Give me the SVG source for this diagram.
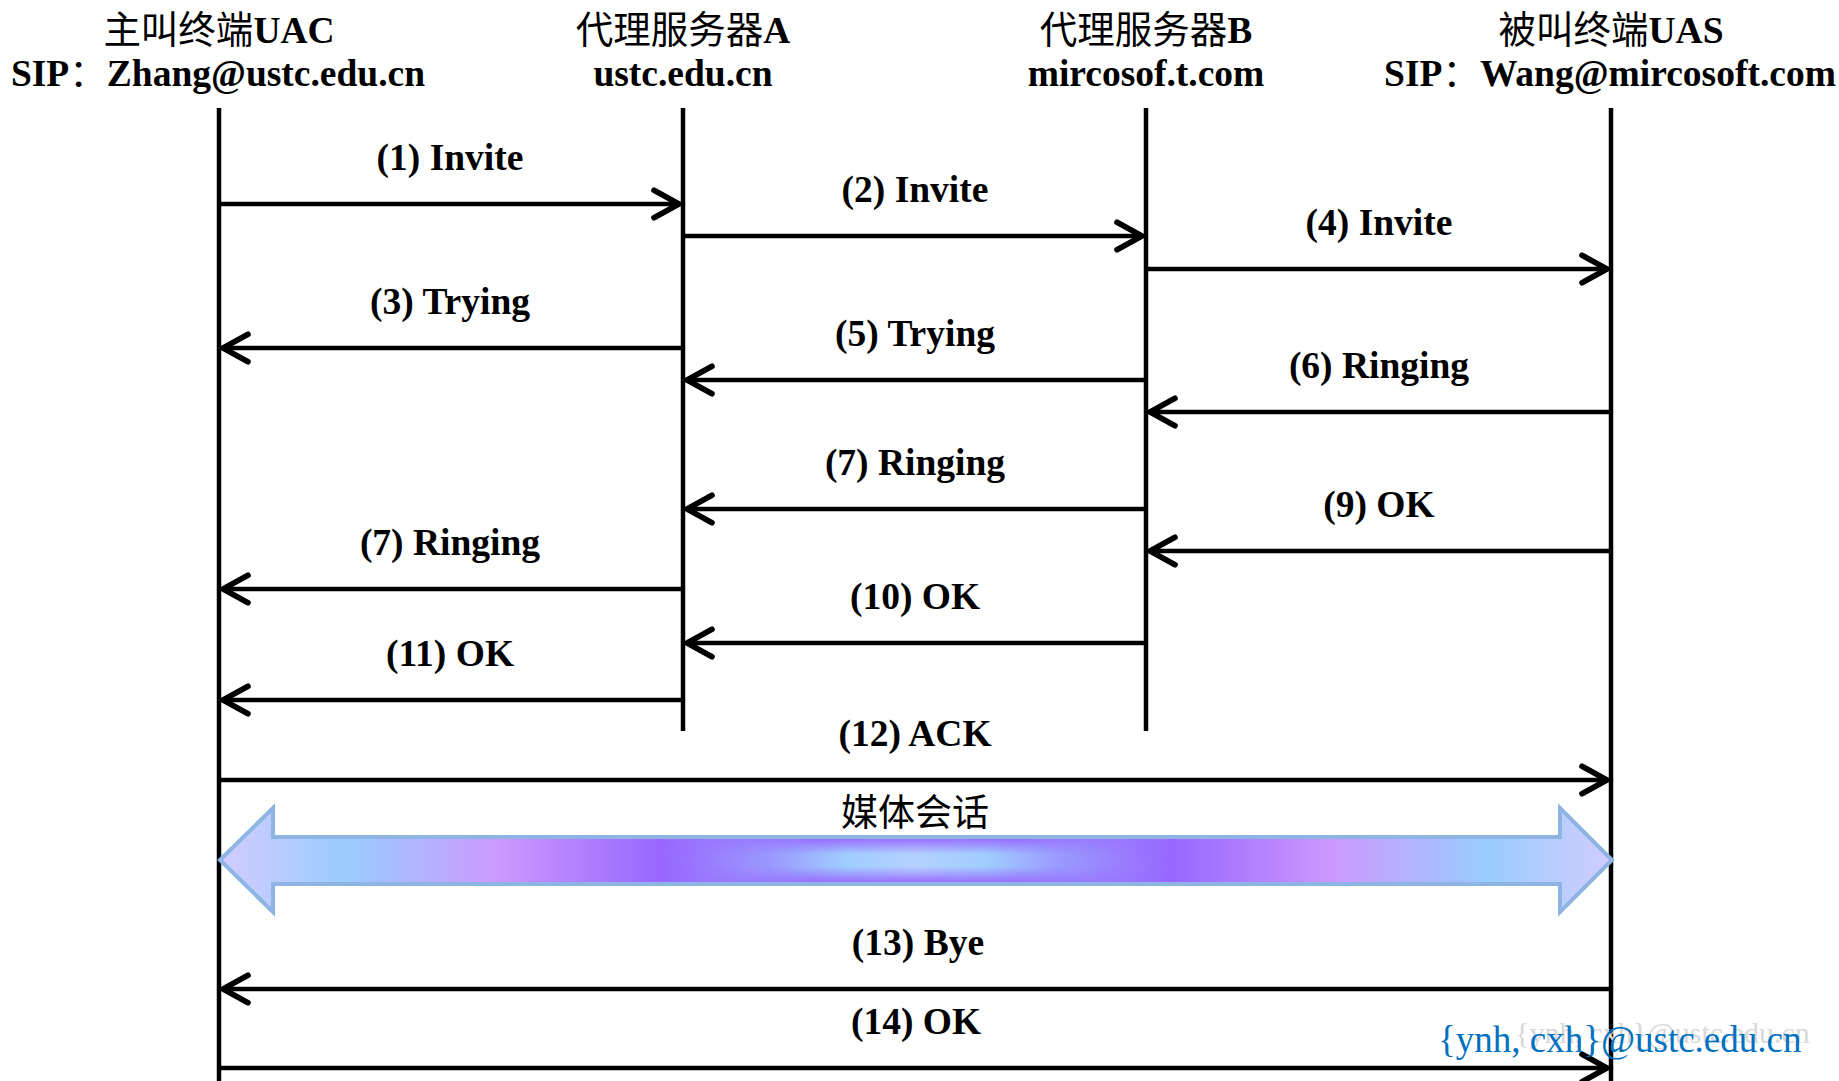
<svg xmlns="http://www.w3.org/2000/svg" width="1839" height="1081" viewBox="0 0 1839 1081">
<style>
.hd{font-family:"Liberation Serif","Noto Sans CJK SC",serif;font-size:37.5px;font-weight:bold;fill:#000;text-anchor:middle}
.cj{font-family:"Noto Sans CJK SC",sans-serif;font-weight:normal}
.lb{font-family:"Liberation Serif","Noto Sans CJK SC",serif;font-size:37.5px;font-weight:bold;fill:#000;text-anchor:middle}
.life{stroke:#000;stroke-width:4.5;fill:none}
.msg{stroke:#000;stroke-width:4.5;fill:none;marker-end:url(#ah)}
</style>
<defs>
<marker id="ah" markerUnits="userSpaceOnUse" markerWidth="40" markerHeight="40" viewBox="-26 -16 32 32" refX="0" refY="0" orient="auto" overflow="visible">
<path d="M-20,-11 L0,0 L-20,11" fill="none" stroke="#000" stroke-width="4.5" stroke-linecap="round" stroke-linejoin="round"/>
</marker>
<linearGradient id="flow" gradientUnits="userSpaceOnUse" x1="220" y1="0" x2="1612" y2="0">
<stop offset="0" stop-color="#D2CCFF"/>
<stop offset="0.091" stop-color="#99CCFF"/>
<stop offset="0.199" stop-color="#CC99FF"/>
<stop offset="0.316" stop-color="#9966FF"/>
<stop offset="0.40" stop-color="#9A9CFF"/>
<stop offset="0.45" stop-color="#A0CCFF"/>
<stop offset="0.5" stop-color="#B4D0FF"/>
<stop offset="0.55" stop-color="#A0CCFF"/>
<stop offset="0.60" stop-color="#9A9CFF"/>
<stop offset="0.684" stop-color="#9966FF"/>
<stop offset="0.80" stop-color="#CC99FF"/>
<stop offset="0.909" stop-color="#99CCFF"/>
<stop offset="1" stop-color="#D2CCFF"/>
</linearGradient>
<linearGradient id="vband" x1="0" y1="0" x2="0" y2="1">
<stop offset="0" stop-color="#9966FF" stop-opacity="0.9"/>
<stop offset="0.35" stop-color="#9966FF" stop-opacity="0"/>
<stop offset="0.65" stop-color="#9966FF" stop-opacity="0"/>
<stop offset="1" stop-color="#9966FF" stop-opacity="0.9"/>
</linearGradient>
<linearGradient id="hfade" x1="0" y1="0" x2="1" y2="0">
<stop offset="0" stop-color="#000"/>
<stop offset="0.3" stop-color="#fff"/>
<stop offset="0.7" stop-color="#fff"/>
<stop offset="1" stop-color="#000"/>
</linearGradient>
<mask id="cmask" maskUnits="userSpaceOnUse" x="660" y="830" width="512" height="60">
<rect x="660" y="830" width="512" height="60" fill="url(#hfade)"/>
</mask>
</defs>
<rect width="1839" height="1081" fill="#fff"/>

<g id="node-uac">
<text class="hd" x="219" y="43"><tspan class="cj">主叫终端</tspan>UAC</text>
<text class="hd" x="218" y="86">SIP<tspan class="cj">：</tspan>Zhang@ustc.edu.cn</text>
<line class="life" x1="219" y1="108" x2="219" y2="1081"/>
</g>
<g id="node-proxyA">
<text class="hd" x="683" y="43"><tspan class="cj">代理服务器</tspan>A</text>
<text class="hd" x="683" y="86">ustc.edu.cn</text>
<line class="life" x1="683" y1="108" x2="683" y2="731"/>
</g>
<g id="node-proxyB">
<text class="hd" x="1146" y="43"><tspan class="cj">代理服务器</tspan>B</text>
<text class="hd" x="1146" y="86">mircosof.t.com</text>
<line class="life" x1="1146" y1="108" x2="1146" y2="731"/>
</g>
<g id="node-uas">
<text class="hd" x="1611" y="43"><tspan class="cj">被叫终端</tspan>UAS</text>
<text class="hd" x="1610" y="86">SIP<tspan class="cj">：</tspan>Wang@mircosoft.com</text>
<line class="life" x1="1611" y1="108" x2="1611" y2="1081"/>
</g>

<g id="connectors">
<line class="msg" x1="221" y1="204" x2="679" y2="204"/>
<line class="msg" x1="685" y1="236" x2="1142" y2="236"/>
<line class="msg" x1="1148" y1="269" x2="1607" y2="269"/>
<line class="msg" x1="681" y1="348" x2="223" y2="348"/>
<line class="msg" x1="1144" y1="380" x2="687" y2="380"/>
<line class="msg" x1="1609" y1="412" x2="1150" y2="412"/>
<line class="msg" x1="1144" y1="509" x2="687" y2="509"/>
<line class="msg" x1="1609" y1="551" x2="1150" y2="551"/>
<line class="msg" x1="681" y1="589" x2="223" y2="589"/>
<line class="msg" x1="1144" y1="643" x2="687" y2="643"/>
<line class="msg" x1="681" y1="700" x2="223" y2="700"/>
<line class="msg" x1="221" y1="780" x2="1607" y2="780"/>
<line class="msg" x1="1609" y1="989" x2="223" y2="989"/>
<line class="msg" x1="221" y1="1068" x2="1607" y2="1068"/>
</g>

<g id="labels">
<text class="lb" x="450" y="170">(1) Invite</text>
<text class="lb" x="915" y="202">(2) Invite</text>
<text class="lb" x="1379" y="235">(4) Invite</text>
<text class="lb" x="450" y="314">(3) Trying</text>
<text class="lb" x="915" y="346">(5) Trying</text>
<text class="lb" x="1379" y="378">(6) Ringing</text>
<text class="lb" x="915" y="475">(7) Ringing</text>
<text class="lb" x="1379" y="517">(9) OK</text>
<text class="lb" x="450" y="555">(7) Ringing</text>
<text class="lb" x="915" y="609">(10) OK</text>
<text class="lb" x="450" y="666">(11) OK</text>
<text class="lb" x="915" y="746">(12) ACK</text>
<text class="lb" x="918" y="955">(13) Bye</text>
<text class="lb" x="916" y="1034">(14) OK</text>
</g>

<g id="media-session">
<path d="M220,860 L273,808 L273,837 L1560,837 L1560,808 L1612,860 L1560,912 L1560,884 L273,884 L273,912 Z" fill="url(#flow)" stroke="#8DB4E2" stroke-width="4" stroke-linejoin="miter"/>
<rect x="660" y="839" width="512" height="43" fill="url(#vband)" mask="url(#cmask)"/>
<text x="915" y="826" font-family="Noto Sans CJK SC, sans-serif" font-size="37" fill="#000" text-anchor="middle">媒体会话</text>
</g>

<g id="watermark">
<text x="1515" y="1043" font-family="Liberation Serif, serif" font-size="30" fill="#D9D9D9">{ynh, cxh}@ustc.edu.cn</text>
<text x="1438" y="1052" font-family="Liberation Serif, serif" font-size="37" fill="#0070C0">{ynh, cxh}@ustc.edu.cn</text>
</g>
</svg>
